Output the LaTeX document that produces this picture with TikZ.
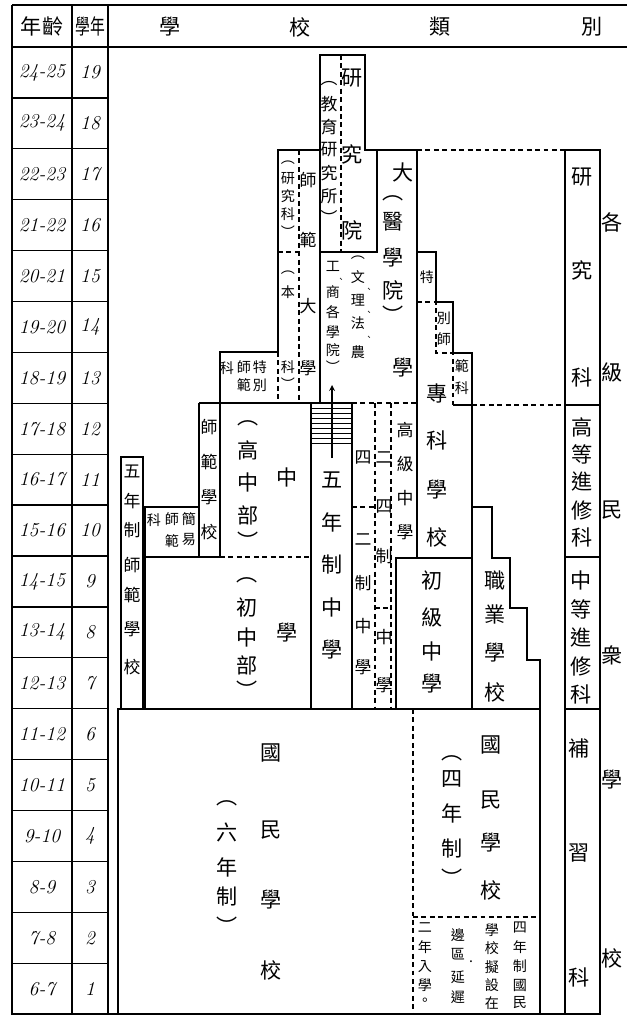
\documentclass[tikz,border=0pt]{standalone}
\usepackage{fontspec}
\newfontfamily\zhfont{Noto Sans CJK TC}
\usetikzlibrary{arrows}

% one column of vertical text: name, x, list of char/y
\newcommand{\zhilie}[4][zi]{%
  \foreach \c/\y [count=\i] in {#4} {\node[#1] (#2-\i) at (#3,\y) {\c};}}

\begin{document}
\begin{tikzpicture}[x=0.025cm, y=-0.025cm]

    \tikzstyle{xian}=[line width=0.9pt];
    \tikzstyle{xu}=[line width=0.9pt, dash pattern=on 3.5pt off 2.5pt];
    \tikzstyle{zi}=[font=\zhfont\fontsize{15}{15}\selectfont, inner sep=0pt];
    \tikzstyle{zhong}=[font=\zhfont\fontsize{12}{12}\selectfont, inner sep=0pt];
    \tikzstyle{xiao}=[font=\zhfont\fontsize{10}{10}\selectfont, inner sep=0pt];
    \tikzstyle{dou}=[font=\zhfont\fontsize{6}{6}\selectfont, inner sep=0pt];
    \tikzstyle{shuzi}=[font=\itshape\fontsize{14}{14}\selectfont, inner sep=0pt];

    \useasboundingbox (0,0) rectangle (627,1017);

    \begin{scope}[>=stealth]
      % table frame
      \draw[xian] (12,5) -- (627,5);
      \draw[xian] (12,47) -- (627,47);
      \draw[xian] (12,5) -- (12,1014) -- (600,1014);
      \draw[xian] (72,5) -- (72,1014);
      \draw[xian] (108,5) -- (108,1014);
      \foreach \k in {1,...,18} \draw[xian] (12,{47+50.9*\k}) -- (108,{47+50.9*\k});

      \node[zi] (nianling) at (42,26) {年齡};
      \node[zi] (xuenian) at (90,26) {\scalebox{0.7}[1]{學年}};
      \node[zi] (biao1) at (170,27) {學};
      \node[zi] (biao2) at (300,27) {校};
      \node[zi] (biao3) at (440,27) {類};
      \node[zi] (biao4) at (592,27) {別};

      \foreach \g in {1,...,19} {
        \pgfmathtruncatemacro\a{\g+5}
        \pgfmathtruncatemacro\b{\g+6}
        \node[shuzi] (age\g) at (42,{47+50.9*(19.5-\g)}) {\a-\b};
        \node[shuzi] (grade\g) at (90,{47+50.9*(19.5-\g)}) {\g};
      }

      % research institute and universities
      \draw[xian] (320,403) -- (320,55) -- (365,55) -- (365,150) -- (377,150) -- (377,252) -- (320,252);
      \draw[xu] (341,55) -- (341,252);
      \draw[xian] (377,150) -- (417,150) -- (417,558);
      \draw[xian] (278,352) -- (278,150) -- (320,150);
      \draw[xu] (299,150) -- (299,403);
      \draw[xu] (278,252) -- (299,252);
      \draw[xu] (278,352) -- (278,403);
      \draw[xian] (220,403) -- (220,352) -- (278,352);
      \draw[xian] (199,403) -- (352,403);
      \draw[xu] (352,403) -- (417,403);

      % secondary schools
      \draw[xian] (199,557) -- (199,403);
      \draw[xian] (220,403) -- (220,557);
      \draw[xian] (145,709) -- (145,507) -- (199,507);
      \draw[xian] (145,557) -- (220,557);
      \draw[xu] (220,557) -- (311,557);
      \draw[xian] (121,709) -- (121,457) -- (143,457) -- (143,709);
      \draw[xian] (311,403) -- (311,709);
      \draw[xian] (352,403) -- (352,709);
      \foreach \y in {408,413,...,443} \draw[line width=0.5pt] (311,\y) -- (352,\y);
      \coordinate (wuniandi) at (332,458);
      \coordinate (jiantou) at (332,385);
      \draw[xian,->] (wuniandi) -- (jiantou);

      \draw[xu] (375,403) -- (375,709);
      \draw[xu] (391,403) -- (391,709);
      \draw[xu] (352,507) -- (375,507);
      \draw[xu] (375,608) -- (391,608);
      \draw[xian] (396,709) -- (396,558) -- (472,558);

      % colleges, vocational schools
      \draw[xian] (417,252) -- (436,252) -- (436,302) -- (453,302) -- (453,353) -- (472,353) -- (472,709);
      \draw[xu] (417,302) -- (436,302) -- (436,353) -- (453,353) -- (453,405);
      \draw[xian] (453,405) -- (472,405);
      \draw[xu] (417,150) -- (565,150);
      \draw[xu] (472,405) -- (565,405);
      \draw[xian] (472,507) -- (492,507) -- (492,558) -- (510,558) -- (510,608) -- (527,608) -- (527,660) -- (540,660) -- (540,709);

      % primary schools
      \draw[xian] (118,709) rectangle (540,1014);
      \draw[xu] (413,709) -- (413,1014);
      \draw[xu] (413,917) -- (540,917);

      % further study column
      \draw[xian] (565,150) rectangle (600,1014);
      \draw[xian] (565,405) -- (600,405);
      \draw[xian] (565,557) -- (600,557);
      \draw[xian] (565,709) -- (600,709);

      % texts
      \zhilie{yjy}{352}{研/78, 究/154, 院/230}
      \zhilie[zhong]{jyyjs}{329}{︵/84, 教/104, 育/127, 研/150, 究/173, 所/196, ︶/217}
      \zhilie[zhong]{sfdx}{308}{師/180, 範/240, 大/306, 學/368}
      \zhilie[xiao]{yjk}{288}{︵/163, 研/179, 究/196, 科/214, ︶/232}
      \zhilie[xiao]{bk}{288}{︵/273, 本/292, 科/367, ︶/384}
      \zhilie[xiao]{tbsfa}{260}{特/367, 別/385}
      \zhilie[xiao]{tbsfb}{244}{師/367, 範/385}
      \zhilie[xiao]{tbsfc}{227}{科/368}
      \zhilie{daxue}{403}{大/172, 學/368}
      \zhilie{yxy}{393}{︵/198, 醫/222, 學/258, 院/290, ︶/315}
      \zhilie[xiao]{wlfn}{358}{︵/258, 文/277, 理/300, 法/323, 農/352}
      \zhilie[dou]{wlfndou}{369}{、/290, 、/313, 、/338}
      \zhilie[xiao]{gsxy}{333}{工/266, 商/292, 各/312, 學/332, 院/350, ︶/367}
      \zhilie[dou]{gsxydou}{341}{、/280}

      \zhilie{zhongxue}{287}{中/477, 學/633}
      \zhilie{gzb}{248}{︵/423, 高/450, 中/482, 部/515, ︶/541}
      \zhilie{czb}{247}{︵/580, 初/607, 中/637, 部/665, ︶/690}
      \zhilie[zhong]{sfxx}{209}{師/427, 範/462, 學/497, 校/532}
      \zhilie[xiao]{jysfa}{189}{簡/519, 易/540}
      \zhilie[xiao]{jysfb}{172}{師/519, 範/541}
      \zhilie[xiao]{jysfc}{154}{科/520}
      \zhilie[zhong]{wnsf}{132}{五/471, 年/501, 制/530, 師/565, 範/595, 學/629, 校/667}
      \zhilie{wnzx}{332}{五/480, 年/522, 制/565, 中/607, 學/650}
      \zhilie[zhong]{sezx}{363}{四/458, 二/540, 制/583, 中/626, 學/667}
      \zhilie[zhong]{eszx}{384}{二/458, 四/507, 制/556, 中/637, 學/685}
      \zhilie[zhong]{gjzx}{405}{高/430, 級/464, 中/498, 學/532}
      \zhilie{cjzx}{432}{初/580, 級/617, 中/651, 學/684}
      \zhilie{zkxx}{437}{專/393, 科/440, 學/490, 校/537}
      \zhilie[xiao]{tbsfd}{427}{特/277}
      \zhilie[xiao]{tbsfe}{444}{別/318, 師/339}
      \zhilie[xiao]{tbsff}{462}{範/366, 科/388}
      \zhilie{zyxx}{495}{職/580, 業/614, 學/653, 校/692}

      \zhilie{yjk}{582}{研/177, 究/270, 科/377}
      \zhilie{gdjx}{582}{高/427, 等/454, 進/482, 修/510, 科/537}
      \zhilie{zdjx}{581}{中/580, 等/609, 進/638, 修/666, 科/694}
      \zhilie{bxk}{579}{補/748, 習/853, 科/977}
      \zhilie{mzxx}{612}{各/222, 級/372, 民/510, 衆/655, 學/780, 校/958}

      \zhilie{gmxxa}{271}{國/753, 民/830, 學/900, 校/970}
      \zhilie{lnz}{227}{︵/803, 六/832, 年/867, 制/897, ︶/926}
      \zhilie{gmxxb}{491}{國/745, 民/800, 學/843, 校/890}
      \zhilie{snz}{452}{︵/758, 四/779, 年/813, 制/849, ︶/878}

      \zhilie[xiao]{zhua}{520}{四/928, 年/947, 制/966, 國/985, 民/1003}
      \zhilie[xiao]{zhub}{492}{學/930, 校/948, 擬/967, 設/985, 在/1003}
      \zhilie[xiao]{zhuc}{458}{邊/935, 區/954, 延/977, 遲/997}
      \node[xiao] (zhudian) at (471,962) {.};
      \zhilie[xiao]{zhud}{425}{二/928, 年/947, 入/967, 學/985, 。/1002}
    \end{scope}
\end{tikzpicture}
\end{document}
